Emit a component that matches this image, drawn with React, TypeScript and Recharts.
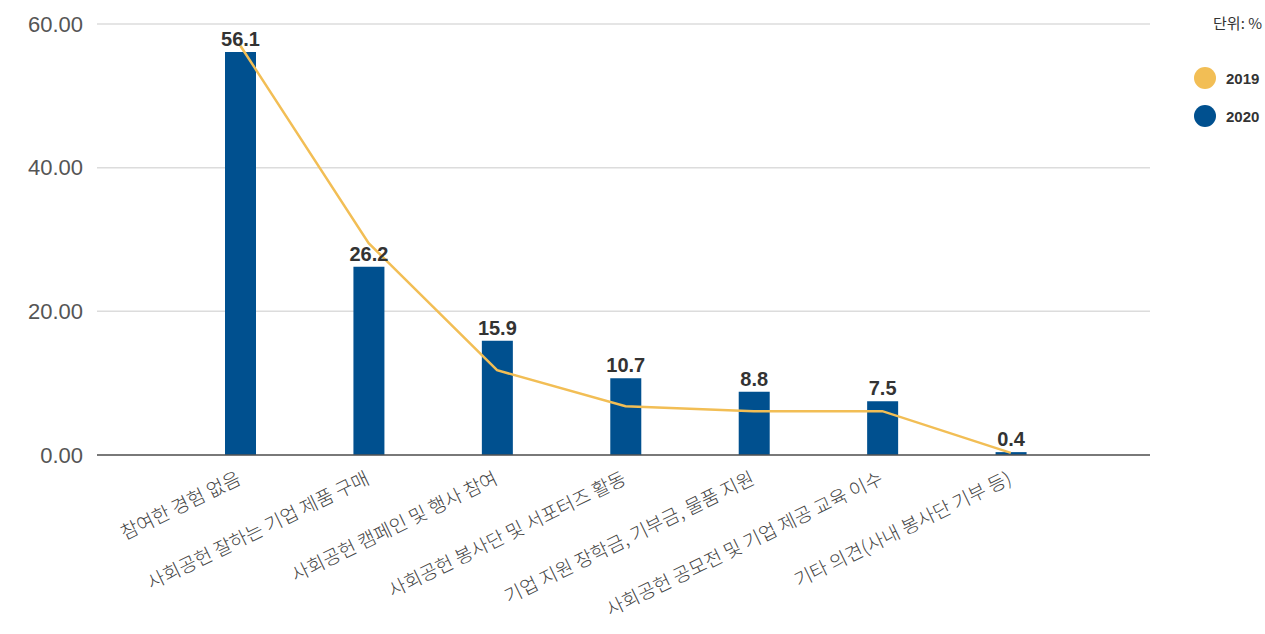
import React from 'react';
import { ComposedChart, Bar, Line, XAxis, YAxis, CartesianGrid, LabelList } from 'recharts';

const categories = [
  '참여한 경험 없음',
  '사회공헌 잘하는 기업 제품 구매',
  '사회공헌 캠페인 및 행사 참여',
  '사회공헌 봉사단 및 서포터즈 활동',
  '기업 지원 장학금, 기부금, 물품 지원',
  '사회공헌 공모전 및 기업 제공 교육 이수',
  '기타 의견(사내 봉사단 기부 등)',
];
const values2019 = [57.0, 29.5, 11.8, 6.8, 6.1, 6.1, 0.3];
const values2020 = [56.1, 26.2, 15.9, 10.7, 8.8, 7.5, 0.4];
const yTicks = [0, 20, 40, 60];
const legendItems = [
  { label: '2019', key: 'y2019' },
  { label: '2020', key: 'y2020' },
];

const BLUE = '#00508f';
const YELLOW = '#f2be55';
const FONT = '"Liberation Sans", "Noto Sans CJK KR", sans-serif';
const KFONT = '"Noto Sans CJK KR", sans-serif';

const data = categories.map((name, i) => ({ name, y2019: values2019[i], y2020: values2020[i] }));

const XTick = (props: any) => {
  const { x, y, payload } = props;
  return (
    <g transform={`translate(${x + 2},${y + 20})`}>
      <text textAnchor="end" transform="rotate(-26)" fill="#444" fontSize={19} fontFamily={KFONT} fontWeight={300}>
        {payload.value}
      </text>
    </g>
  );
};

const App = () => {
  return (
    <div style={{ position: 'absolute', left: 0, top: 0, width: 1265, height: 634, background: '#fff' }}>
      <ComposedChart width={1265} height={634} data={data} margin={{ top: 24, right: 115, left: 0, bottom: 9 }}>
        <CartesianGrid vertical={false} stroke="#dcdcdc" strokeWidth={1.5} />
        <XAxis
          dataKey="name"
          interval={0}
          height={170}
          padding={{ left: 79, right: 75 }}
          tickLine={false}
          axisLine={{ stroke: '#555', strokeWidth: 1.5 }}
          tick={<XTick />}
        />
        <YAxis
          width={97}
          domain={[0, 60]}
          ticks={yTicks}
          tickFormatter={(v: number) => v.toFixed(2)}
          axisLine={false}
          tickLine={false}
          tickMargin={8}
          tick={{ fill: '#555', fontSize: 22, fontFamily: FONT }}
        />
        <Bar dataKey="y2020" fill={BLUE} barSize={31} isAnimationActive={false}>
          <LabelList
            dataKey="y2020"
            position="top"
            offset={6}
            formatter={(v: any) => Number(v).toFixed(1)}
            style={{ fill: '#333', fontSize: 20, fontWeight: 700, fontFamily: FONT }}
          />
        </Bar>
        <Line
          dataKey="y2019"
          type="linear"
          stroke={YELLOW}
          strokeWidth={2.5}
          dot={false}
          activeDot={false}
          isAnimationActive={false}
        />
      </ComposedChart>
      <div style={{ position: 'absolute', left: 1190, top: 12, width: 72, fontFamily: FONT, color: '#333', fontSize: 15 }}>
        <div style={{ textAlign: 'right', marginBottom: 26, fontFamily: KFONT }}>단위: %</div>
        {legendItems.map((item) => (
          <div key={item.label} style={{ display: 'flex', alignItems: 'center', height: 38, fontWeight: 700 }}>
            <span
              style={{
                width: 22,
                height: 22,
                borderRadius: 11,
                background: item.key === 'y2019' ? YELLOW : BLUE,
                display: 'inline-block',
                marginLeft: 4,
                marginRight: 10,
              }}
            />
            <span>{item.label}</span>
          </div>
        ))}
      </div>
    </div>
  );
};

export default App;
